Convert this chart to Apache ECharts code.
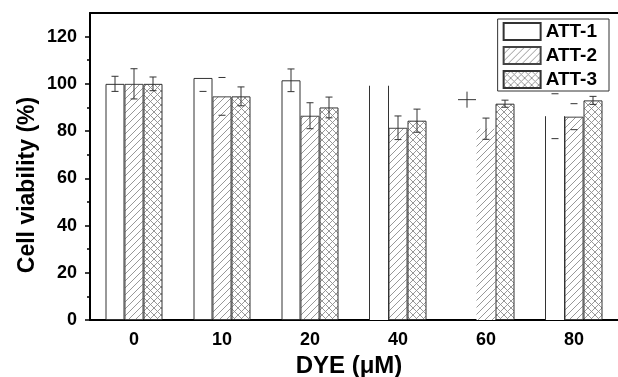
<!DOCTYPE html>
<html>
<head>
<meta charset="utf-8">
<script src="https://cdn.jsdelivr.net/npm/echarts@6/dist/echarts.min.js"></script>
<style>
  html, body { margin: 0; padding: 0; background: #fff; }
  #content { width: 618px; height: 377px; }
</style>
</head>
<body>
<div id="content"></div>
<script>
// 数据
const categories = ["0", "10", "20", "40", "60", "80"];
const att1 = [100, 102.5, 101.5, 99.2, 93.3, 86.3];
const att1Err = [3.2, 5.7, 4.8, 0, 3.4, 9.5];
const att2 = [100, 94.7, 86.5, 81.4, 81, 86.1];
const att2Err = [6.4, 8, 5.5, 5, 4.5, 5.5];
const att3 = [100, 94.7, 90, 84.4, 91.6, 93];
const att3Err = [2.9, 4, 4.4, 4.9, 1.5, 1.7];
const yTicks = [0, 20, 40, 60, 80, 100, 120];
const yMinorTicks = [10, 30, 50, 70, 90, 110];

// the original figure is partly broken: how each mark is drawn
const att1Look = ["full", "full", "full", "sides", "hidden", "sides"];
const att2Edge = [1, 1, 1, 1, 0, 1];
const err1Look = ["full", "low", "full", "none", "plus", "caps"];
const err2Look = ["full", "caps", "full", "full", "full", "caps"];
const err3Look = ["full", "full", "full", "full", "full", "full"];

const font = "'Liberation Sans', Arial, sans-serif";
const barW = 19;

let makePattern = (cross) => {
  const c = document.createElement("canvas");
  c.width = 7;
  c.height = 7;
  const ctx = c.getContext("2d");
  ctx.fillStyle = "#fff";
  ctx.fillRect(0, 0, 7, 7);
  ctx.strokeStyle = "#8c8c8c";
  ctx.lineWidth = 0.9;
  ctx.beginPath();
  ctx.moveTo(0, 7); ctx.lineTo(7, 0);
  ctx.moveTo(-1, 1); ctx.lineTo(1, -1);
  ctx.moveTo(6, 8); ctx.lineTo(8, 6);
  if (cross) {
    ctx.moveTo(0, 0); ctx.lineTo(7, 7);
    ctx.moveTo(-1, 6); ctx.lineTo(1, 8);
    ctx.moveTo(6, -1); ctx.lineTo(8, 1);
  }
  ctx.stroke();
  return { image: c, repeat: "repeat" };
};

let errSeries = (name, vals, errs, looks, offset) => ({
  name: name,
  type: "custom",
  z: 4,
  data: vals.map((v, i) => [i, v, errs[i]]),
  encode: { x: 0, y: 1 },
  renderItem: function (params, api) {
    const i = api.value(0);
    const v = api.value(1);
    const e = api.value(2);
    const look = looks[params.dataIndex];
    const x = api.coord([i, v])[0] + offset;
    const mid = api.coord([i, v])[1];
    const top = api.coord([i, v + e])[1];
    const bot = api.coord([i, v - e])[1];
    const st = { stroke: "#333", lineWidth: 1 };
    const line = (x1, y1, x2, y2) => ({ type: "line", shape: { x1, y1, x2, y2 }, style: st });
    const kids = [];
    if (look === "full") {
      kids.push(line(x, top, x, bot), line(x - 3.5, top, x + 3.5, top), line(x - 3.5, bot, x + 3.5, bot));
    } else if (look === "caps") {
      kids.push(line(x - 3.5, top, x + 3.5, top), line(x - 3.5, bot, x + 3.5, bot));
    } else if (look === "low") {
      kids.push(line(x - 3.5, bot, x + 3.5, bot));
    } else if (look === "plus") {
      kids.push(line(x, top, x, bot), line(x - 9, mid, x + 9, mid));
    }
    return { type: "group", children: kids };
  },
});

let myChart = echarts.init(document.getElementById("content"));
myChart.setOption({
  animation: false,
  textStyle: { fontFamily: font, color: "#000" },
  grid: { left: 90, right: 0, top: 13, bottom: 57, outerBoundsMode: "none", containLabel: false },
  legend: {
    data: ["ATT-1", "ATT-2", "ATT-3"],
    orient: "vertical",
    right: 9,
    top: 19,
    icon: "rect",
    itemWidth: 37,
    itemHeight: 17,
    itemGap: 5,
    padding: [3, 12, 2, 5],
    borderColor: "#333",
    borderWidth: 1,
    textStyle: { fontFamily: font, fontSize: 19, fontWeight: "bold", color: "#000" },
  },
  xAxis: [
    {
      type: "category",
      data: categories,
      name: "DYE (μM)",
      nameLocation: "middle",
      nameGap: 30,
      nameTextStyle: { fontFamily: font, fontSize: 24, fontWeight: "bold", color: "#000", padding: [0, 10, 0, 0] },
      axisLine: { lineStyle: { color: "#000", width: 2 } },
      axisTick: { alignWithLabel: true, length: 6, lineStyle: { color: "#000", width: 2 } },
      axisLabel: { fontFamily: font, fontSize: 18, fontWeight: "bold", color: "#000", margin: 11 },
    },
    {
      type: "category",
      data: categories,
      position: "bottom",
      axisLine: { show: false },
      axisTick: {
        length: 3,
        interval: (index) => index >= 3,
        lineStyle: { color: "#000", width: 2 },
      },
      axisLabel: { show: false },
    },
    {
      type: "category",
      data: categories,
      position: "top",
      axisLine: { lineStyle: { color: "#000", width: 2 } },
      axisTick: { show: false },
      axisLabel: { show: false },
    },
  ],
  yAxis: [
    {
      type: "value",
      min: 0,
      max: 130,
      splitLine: { show: false },
      axisLine: { show: true, lineStyle: { color: "#000", width: 2 } },
      axisTick: { show: true, length: 5, customValues: yTicks, lineStyle: { color: "#000", width: 1.5 } },
      axisLabel: { customValues: yTicks, fontFamily: font, fontSize: 18, fontWeight: "bold", color: "#000", margin: 13 },
    },
    {
      type: "value",
      min: 0,
      max: 130,
      position: "left",
      splitLine: { show: false },
      axisLine: { show: false },
      axisTick: { show: true, length: 3, customValues: yMinorTicks, lineStyle: { color: "#000", width: 1.5 } },
      axisLabel: { show: false },
    },
  ],
  graphic: [
    {
      type: "text",
      x: 28,
      y: 185,
      rotation: Math.PI / 2,
      style: {
        text: "Cell viability (%)",
        font: "bold 23px " + font,
        fill: "#000",
        align: "center",
        verticalAlign: "middle",
      },
    },
  ],
  series: [
    {
      name: "ATT-1",
      type: "bar",
      barWidth: barW,
      barGap: "0%",
      itemStyle: { color: "#fff", borderColor: "#333", borderWidth: 1 },
      data: att1.map((v, i) => ({
        value: v,
        itemStyle: att1Look[i] === "sides" ? { borderWidth: 0 } : att1Look[i] === "hidden" ? { opacity: 0 } : {},
      })),
    },
    {
      name: "ATT-2",
      type: "bar",
      barWidth: barW,
      barGap: "0%",
      itemStyle: { color: makePattern(false), borderColor: "#444", borderWidth: 1 },
      data: att2.map((v, i) => ({ value: v, itemStyle: { borderWidth: att2Edge[i] } })),
    },
    {
      name: "ATT-3",
      type: "bar",
      barWidth: barW,
      barGap: "0%",
      itemStyle: { color: makePattern(true), borderColor: "#333", borderWidth: 1 },
      data: att3,
    },
    {
      name: "att1-sides",
      type: "custom",
      z: 3,
      data: att1.map((v, i) => [i, v]),
      encode: { x: 0, y: 1 },
      renderItem: function (params, api) {
        if (att1Look[params.dataIndex] !== "sides") return;
        const i = api.value(0);
        const p = api.coord([i, api.value(1)]);
        const b = api.coord([i, 0])[1];
        const l = p[0] - barW * 1.5;
        const r = p[0] - barW * 0.5;
        const st = { stroke: "#333", lineWidth: 1 };
        return {
          type: "group",
          children: [
            { type: "line", shape: { x1: l, y1: p[1], x2: l, y2: b }, style: st },
            { type: "line", shape: { x1: r, y1: p[1], x2: r, y2: b }, style: st },
          ],
        };
      },
    },
    errSeries("err-1", att1, att1Err, err1Look, -barW),
    errSeries("err-2", att2, att2Err, err2Look, 0),
    errSeries("err-3", att3, att3Err, err3Look, barW),
  ],
});
window.addEventListener("resize", function () {
  myChart.resize();
});
</script>
</body>
</html>
